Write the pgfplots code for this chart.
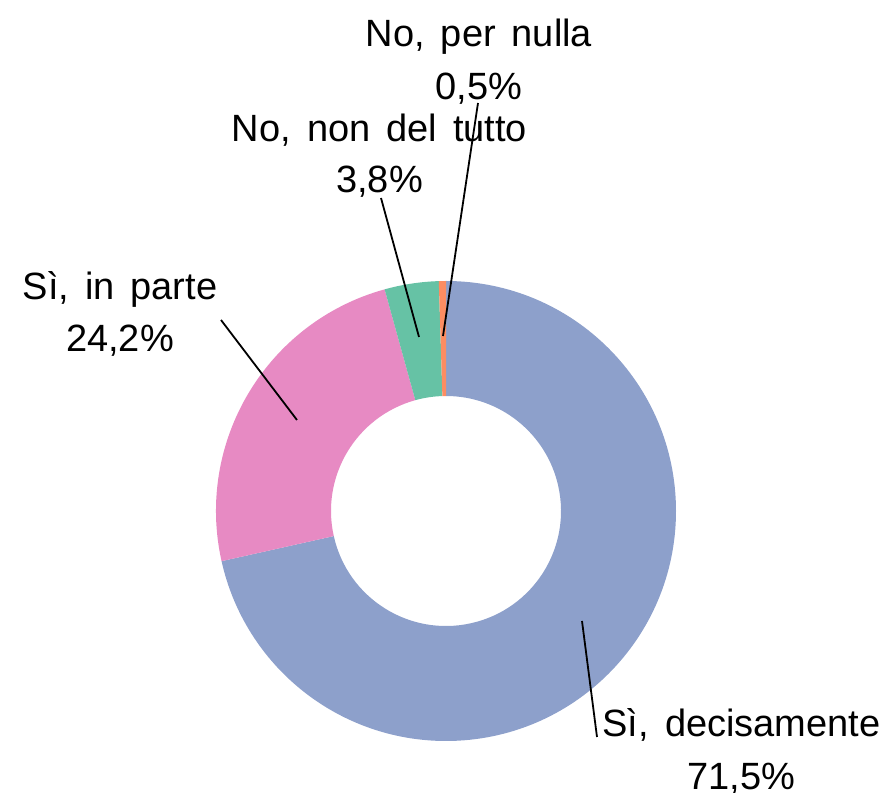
\documentclass[border=0pt]{standalone}
\usepackage{pgfplots}
\usepackage{pgfplotstable}
\pgfplotsset{compat=1.18}
\usepackage{fontspec}
\setmainfont{Liberation Sans}
\definecolor{cBlue}{HTML}{8DA0CB}
\definecolor{cPink}{HTML}{E78AC3}
\definecolor{cGreen}{HTML}{66C2A5}
\definecolor{cOrange}{HTML}{FC8D62}
\newcommand{\lblfont}{\fontsize{38}{45}\selectfont\spaceskip 16pt\relax}

% share (%) of each answer, clockwise from 12 o'clock
\pgfplotstableread{
value color
71.5  cBlue
24.2  cPink
3.8   cGreen
0.5   cOrange
}\piedata

\begin{document}
\begin{tikzpicture}
\begin{axis}[name=ax, x=1pt, y=1pt,
  xmin=-446, xmax=441, ymin=-282, ymax=511,
  hide axis, clip=false]
\def\cum{0}
\pgfplotsforeachungrouped \i in {0,...,3}{%
  \pgfplotstablegetelem{\i}{value}\of\piedata \let\v\pgfplotsretval
  \pgfplotstablegetelem{\i}{color}\of\piedata \let\c\pgfplotsretval
  \pgfmathsetmacro\a{90-3.6*\cum}%
  \pgfmathsetmacro\b{90-3.6*(\cum+\v)}%
  \edef\tmp{\noexpand\fill[\c] (axis cs:{230*cos(\a)},{230*sin(\a)}) arc[start angle=\a, end angle=\b, radius=230pt] -- (axis cs:{115*cos(\b)},{115*sin(\b)}) arc[start angle=\b, end angle=\a, radius=115pt] -- cycle;}%
  \tmp
  \pgfmathsetmacro\cum{\cum+\v}%
}
% leader lines
\addplot[black, line width=1.8pt] coordinates {(-3,175) (32,408)};
\addplot[black, line width=1.8pt] coordinates {(-27,174) (-65,313)};
\addplot[black, line width=1.8pt] coordinates {(-149,91) (-225,191)};
\addplot[black, line width=1.8pt] coordinates {(136,-110) (151,-226)};
% labels
\begin{scope}[every node/.style={anchor=base, inner sep=0pt, font=\lblfont}]
\node at (axis cs:33,464) {No, per nulla};
\node at (axis cs:33,411) {0,5\%};
\node at (axis cs:-66.5,369) {No, non del tutto};
\node at (axis cs:-66.5,318) {3,8\%};
\node at (axis cs:-326,211) {Sì, in parte};
\node at (axis cs:-326,159) {24,2\%};
\node at (axis cs:295.5,-226) {Sì, decisamente};
\node at (axis cs:295.5,-279) {71,5\%};
\end{scope}
\end{axis}
\pgfresetboundingbox
\useasboundingbox (ax.south west) rectangle (ax.north east);
\end{tikzpicture}
\end{document}
